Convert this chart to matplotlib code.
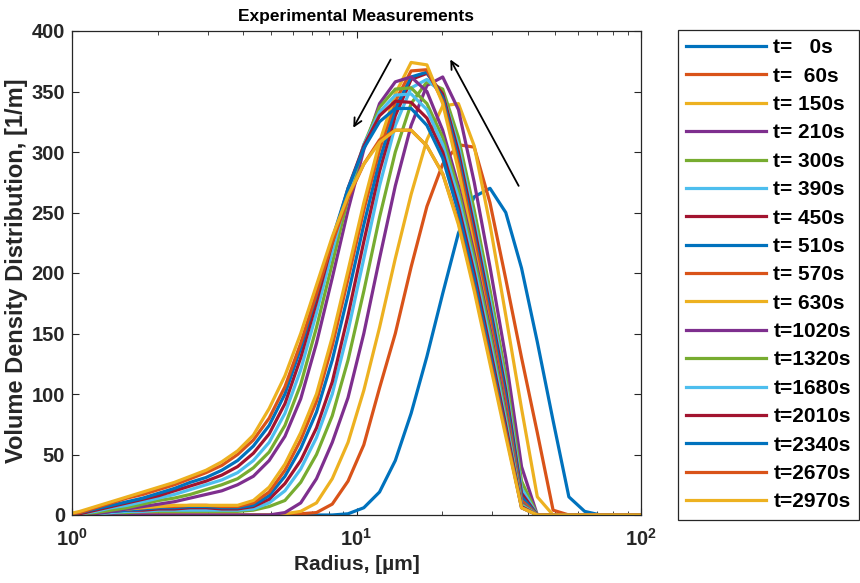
import matplotlib
matplotlib.use("Agg")
import matplotlib.pyplot as plt

plt.rcParams['font.family'] = ['Liberation Sans', 'DejaVu Sans']
plt.rcParams['mathtext.fontset'] = 'custom'
plt.rcParams['mathtext.rm'] = 'Liberation Sans'
plt.rcParams['mathtext.bf'] = 'Liberation Sans:bold'

# Radius grid (µm), log-spaced instrument bins
radius = [0.938, 1.066, 1.211, 1.376, 1.563, 1.776, 2.018, 2.293, 2.605, 2.960,
          3.363, 3.820, 4.340, 4.932, 5.603, 6.367, 7.234, 8.219, 9.338, 10.61,
          12.05, 13.69, 15.56, 17.68, 20.09, 22.82, 25.93, 29.46, 33.47, 38.03,
          43.21, 49.09, 55.78, 63.38, 72.01, 81.82, 92.96, 105.6]

labels = ['t=   0s', 't=  60s', 't= 150s', 't= 210s', 't= 300s', 't= 390s',
          't= 450s', 't= 510s', 't= 570s', 't= 630s', 't=1020s', 't=1320s',
          't=1680s', 't=2010s', 't=2340s', 't=2670s', 't=2970s']

t0 = [0, 0, 0, 0, 0, 0, 0, 0, 0, 0,
      0, 0, 0, 0, 0, 0, 0, 0, 1, 6,
      19, 45, 84, 131, 183, 233, 263, 270, 250, 204,
      143, 78, 15, 3, 0, 0, 0, 0]
t60 = [0, 0, 0, 0, 0, 0, 0, 0, 0, 0,
       0, 0, 0, 0, 0, 1, 2, 9, 28, 58,
       105, 150, 205, 255, 290, 306, 304, 258, 195, 130,
       68, 4, 0, 0, 0, 0, 0, 0]
t150 = [0, 0, 0, 0, 0, 0, 0, 0, 0, 0,
        0, 0, 0, 0, 1, 3, 10, 30, 60, 103,
        155, 212, 265, 310, 338, 340, 305, 240, 165, 88,
        15, 0, 0, 0, 0, 0, 0, 0]
t210 = [0, 0, 0, 0, 0, 0, 0, 0, 0, 0,
        0, 0, 0, 0, 2, 10, 30, 60, 97, 150,
        212, 272, 322, 355, 362, 335, 275, 205, 130, 40,
        0, 0, 0, 0, 0, 0, 0, 0]
t300 = [0, 1, 1, 2, 2, 3, 3, 3, 3, 3,
        3, 3, 4, 7, 12, 27, 50, 82, 128, 185,
        246, 300, 340, 358, 352, 312, 252, 186, 115, 28,
        0, 0, 0, 0, 0, 0, 0, 0]
t390 = [0, 1, 1, 2, 3, 3, 4, 4, 4, 4,
        4, 4, 5, 10, 20, 38, 64, 100, 152, 212,
        272, 322, 353, 360, 348, 305, 244, 178, 108, 22,
        0, 0, 0, 0, 0, 0, 0, 0]
t450 = [0, 1, 2, 3, 4, 4, 5, 5, 6, 6,
        5, 5, 7, 13, 26, 45, 72, 110, 165, 226,
        284, 330, 360, 365, 348, 300, 238, 172, 103, 18,
        0, 0, 0, 0, 0, 0, 0, 0]
t510 = [0, 1, 2, 3, 4, 5, 6, 6, 7, 7,
        6, 6, 8, 16, 32, 55, 85, 128, 182, 240,
        293, 336, 362, 366, 345, 295, 232, 168, 98, 15,
        0, 0, 0, 0, 0, 0, 0, 0]
t570 = [0, 1, 2, 4, 5, 6, 7, 7, 8, 8,
        7, 7, 10, 19, 37, 62, 94, 140, 195, 252,
        302, 342, 367, 368, 342, 290, 228, 162, 92, 12,
        0, 0, 0, 0, 0, 0, 0, 0]
t630 = [0, 2, 3, 4, 5, 6, 7, 8, 8, 8,
        8, 8, 12, 23, 42, 68, 100, 147, 202, 258,
        308, 348, 374, 372, 340, 285, 220, 155, 85, 10,
        0, 0, 0, 0, 0, 0, 0, 0]
t1020 = [0, 0, 1, 3, 5, 7, 9, 11, 14, 17,
         20, 25, 32, 45, 65, 96, 142, 196, 252, 302,
         340, 358, 362, 350, 318, 272, 216, 154, 86, 10,
         0, 0, 0, 0, 0, 0, 0, 0]
t1320 = [0, 1, 2, 4, 6, 9, 12, 14, 17, 21,
         25, 30, 39, 52, 74, 108, 155, 208, 262, 306,
         337, 352, 353, 340, 312, 268, 212, 150, 82, 9,
         0, 0, 0, 0, 0, 0, 0, 0]
t1680 = [0, 1, 3, 6, 8, 11, 14, 17, 21, 25,
         29, 35, 45, 60, 84, 120, 167, 218, 267, 306,
         333, 347, 348, 335, 306, 262, 206, 144, 78, 8,
         0, 0, 0, 0, 0, 0, 0, 0]
t2010 = [0, 1, 4, 7, 10, 13, 16, 20, 24, 28,
         33, 40, 51, 67, 92, 130, 176, 225, 270, 305,
         330, 342, 341, 328, 300, 255, 200, 138, 74, 7,
         0, 0, 0, 0, 0, 0, 0, 0]
t2340 = [0, 2, 5, 8, 11, 14, 18, 22, 27, 31,
         37, 45, 57, 74, 100, 138, 182, 228, 270, 303,
         325, 336, 336, 322, 295, 250, 195, 133, 70, 6,
         0, 0, 0, 0, 0, 0, 0, 0]
t2670 = [0, 2, 6, 10, 14, 17, 21, 25, 30, 35,
         41, 50, 62, 80, 106, 142, 183, 225, 262, 290,
         310, 318, 318, 305, 282, 242, 188, 128, 68, 6,
         0, 0, 0, 0, 0, 0, 0, 0]
t2970 = [0, 3, 7, 11, 15, 19, 23, 27, 32, 37,
         44, 53, 66, 88, 115, 150, 190, 230, 264, 290,
         308, 318, 318, 305, 282, 240, 185, 125, 65, 6,
         0, 0, 0, 0, 0, 0, 0, 0]

series = [t0, t60, t150, t210, t300, t390, t450, t510, t570, t630,
          t1020, t1320, t1680, t2010, t2340, t2670, t2970]

colors = ['#0072BD', '#D95319', '#EDB120', '#7E2F8E', '#77AC30', '#4DBEEE', '#A2142F']

W, H = 860, 583
fig = plt.figure(figsize=(W / 100, H / 100), dpi=100)
ax = fig.add_axes([72 / W, (H - 515) / H, (641 - 72) / W, (515 - 31) / H])

for i, (vals, lab) in enumerate(zip(series, labels)):
    ax.plot(radius, vals, color=colors[i % 7], lw=2.3, label=lab)

ax.set_xscale('log')
ax.set_xlim(1, 100)
ax.set_ylim(0, 400)
ax.set_yticks(range(0, 401, 50))
ax.set_xticks([1, 10, 100])
ax.set_xticklabels([r'$\mathbf{10^{0}}$', r'$\mathbf{10^{1}}$', r'$\mathbf{10^{2}}$'])
for lab in ax.get_yticklabels():
    lab.set_fontweight('bold')
ax.tick_params(which='both', direction='in', top=True, right=True, colors='#262626',
               labelcolor='#262626', labelsize=14.5)
ax.tick_params(axis='x', which='major', pad=9)
ax.tick_params(axis='y', which='major', pad=5)
ax.tick_params(which='major', length=5, width=0.8)
ax.tick_params(which='minor', length=3, width=0.6)
for s in ax.spines.values():
    s.set_color('#262626')
    s.set_linewidth(0.9)

ax.set_title('Experimental Measurements', fontweight='bold', fontsize=12.5, pad=7)
ax.set_xlabel('Radius, [µm]', fontweight='bold', fontsize=15, color='#262626')
ax.xaxis.set_label_coords(0.5, -0.083)
ax.set_ylabel('Volume Density Distribution, [1/m]', fontweight='bold', fontsize=17,
              color='#262626')
ax.yaxis.set_label_coords(-0.077, 0.505)

ax.annotate('', xy=(9.64, 318), xytext=(13.33, 378.5),
            arrowprops=dict(arrowstyle='->', color='black', lw=1.3, mutation_scale=14))
ax.annotate('', xy=(21.14, 378.5), xytext=(37.55, 270),
            arrowprops=dict(arrowstyle='->', color='black', lw=1.3, mutation_scale=14))

leg = ax.legend(loc='upper left', bbox_to_anchor=(678 / W, 1 - 30 / H),
                bbox_transform=fig.transFigure, borderaxespad=0, fancybox=False,
                edgecolor='#262626', framealpha=1, handlelength=3.8, handletextpad=0.38,
                labelspacing=0.45, borderpad=0.4,
                prop={'weight': 'bold', 'size': 15})
leg.get_frame().set_linewidth(0.9)

fig.savefig('out.png', dpi=100)
